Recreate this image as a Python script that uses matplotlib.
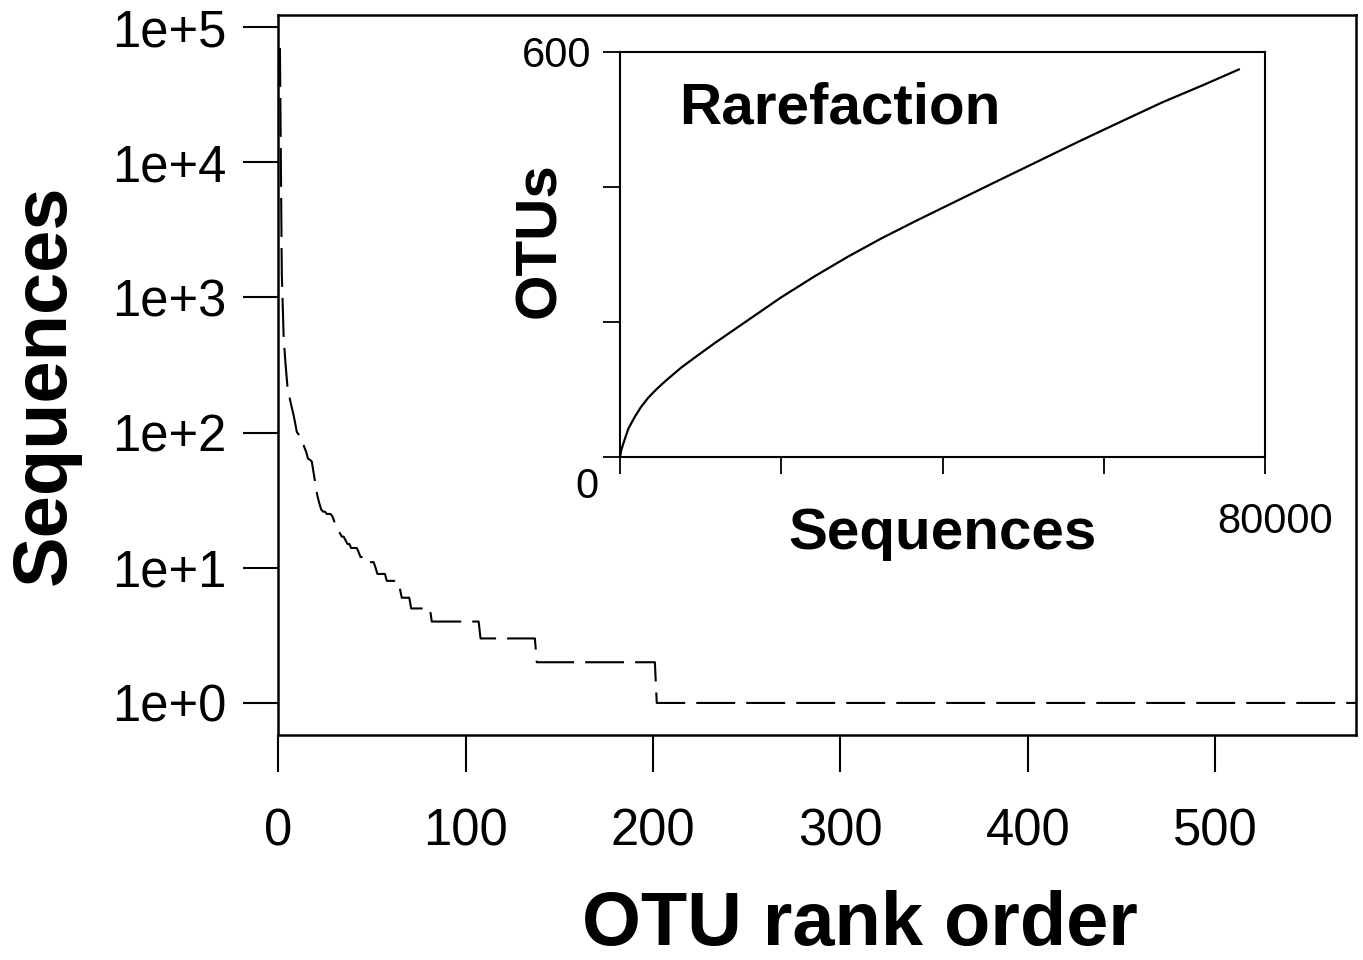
import numpy as np
import matplotlib
matplotlib.use("Agg")
import matplotlib.pyplot as plt

plt.rcParams['font.family'] = ['Liberation Sans', 'DejaVu Sans']

# rank-abundance: abundance of each OTU (top ranks read one by one)
top_abund = [70000, 1500, 500, 320, 220, 185, 160, 140, 120, 101,
             97, 93, 85, 78, 72, 64, 63, 61, 50, 41,
             34, 30, 27, 26, 26, 25, 25, 25, 24, 22,
             20, 19, 18, 17, 17, 16, 15, 15, 14, 14,
             14, 14, 13, 12, 12, 12, 12, 11, 11, 11,
             11, 10, 9, 9, 9, 9, 9, 8, 8, 8,
             8, 8, 7, 7, 7, 6, 6, 6, 6, 6]
# rare tail: abundance value -> number of OTUs with it
tail_values = [5, 4, 3, 2, 1]
tail_counts = [11, 26, 30, 64, 374]

# rarefaction curve (sequences sampled, OTUs observed)
rare_seqs = [0, 150, 413, 1034, 1860, 2600, 3515, 4500, 5581, 7650,
             9700, 11783, 15915, 19930, 24186, 28316, 32450, 36590, 40000,
             46500, 51680, 56850, 62000, 67200, 72350, 76750]
rare_otus = [0, 10, 20, 42, 60, 74, 88, 100, 112, 133,
             151, 169, 203, 236, 268, 297, 324, 349, 369,
             407, 437, 467, 496, 525, 551, 574]

abund = np.concatenate([top_abund, np.repeat(tail_values, tail_counts)])
ranks = np.arange(1, len(abund) + 1)

fig = plt.figure(figsize=(13.63, 9.6), dpi=100)

# main panel
ax = fig.add_axes([0.2040, 0.2344, 0.7909, 0.7500])
ax.plot(ranks, abund, color='black', lw=1.5, linestyle=(0, (18.7, 5.3)))
ax.set_yscale('log')
ax.set_xlim(0, 575)
ax.set_ylim(10 ** -0.237, 10 ** 5.089)
ax.set_xticks([0, 100, 200, 300, 400, 500])
ax.set_yticks([1, 10, 100, 1000, 10000, 100000])
ax.set_yticklabels(['1e+0', '1e+1', '1e+2', '1e+3', '1e+4', '1e+5'])
ax.minorticks_off()
ax.tick_params(axis='y', length=25, width=1.5, pad=12, labelsize=36.5)
ax.tick_params(axis='x', length=26.5, width=1.5, pad=26, labelsize=36.5)
for s in ax.spines.values():
    s.set_linewidth(1.8)

fig.text(0.033, 0.599, 'Sequences', rotation=90, fontsize=54.5, fontweight='bold',
         ha='center', va='center')
fig.text(0.631, 0.036, 'OTU rank order', fontsize=54.5, fontweight='bold',
         ha='center', va='center')

# inset: rarefaction
axi = fig.add_axes([0.4549, 0.5240, 0.4732, 0.4219])
axi.plot(rare_seqs, rare_otus, color='black', lw=1.6)
axi.set_xlim(0, 80000)
axi.set_ylim(0, 600)
axi.set_xticks([0, 20000, 40000, 60000, 80000])
axi.set_yticks([0, 200, 400, 600])
axi.set_xticklabels([])
axi.set_yticklabels(['', '', '', '600'])
axi.tick_params(axis='both', length=12.5, width=1.3, pad=8, labelsize=30)
for s in axi.spines.values():
    s.set_linewidth(1.5)

axi.text(-0.051, -0.074, '0', transform=axi.transAxes, fontsize=30,
         ha='center', va='center')
axi.text(1.0155, -0.16, '80000', transform=axi.transAxes, fontsize=30,
         ha='center', va='center')
axi.text(0.5, -0.19, 'Sequences', transform=axi.transAxes, fontsize=42,
         fontweight='bold', ha='center', va='center')
axi.text(-0.124, 0.536, 'OTUs', transform=axi.transAxes, fontsize=42,
         fontweight='bold', rotation=90, ha='center', va='center')
axi.text(0.341, 0.86, 'Rarefaction', transform=axi.transAxes, fontsize=42,
         fontweight='bold', ha='center', va='center')

fig.savefig('out.png', dpi=100)
